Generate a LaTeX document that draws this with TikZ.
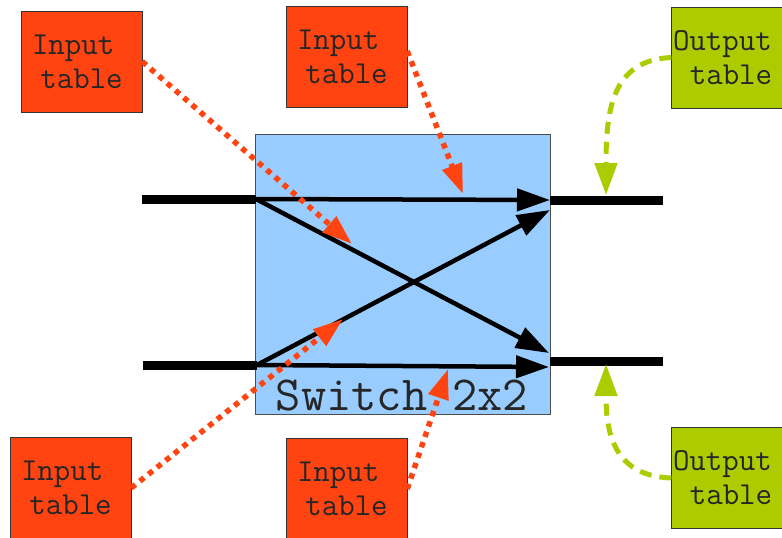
\documentclass[tikz,border=0pt]{standalone}
\usepackage{fontspec}
\usetikzlibrary{arrows.meta,positioning}
\definecolor{tabred}{HTML}{FF4411}
\definecolor{tabgreen}{HTML}{ACCC00}
\definecolor{swblue}{HTML}{99CCFF}

\begin{document}
\begin{tikzpicture}[x=1pt, y=-1pt, line join=miter,
    intab/.style={draw=black!80, fill=tabred, minimum width=121pt, minimum height=101pt,
      inner xsep=11pt, text width=99pt, align=left, text=black!85,
      font=\ttfamily\fontsize{32}{34}\selectfont},
    outtab/.style={intab, fill=tabgreen, inner xsep=1pt, text width=118pt},
    wire/.style={line width=9pt},
    link/.style={line width=4.5pt, -{Triangle[length=33pt,width=22pt]}},
    ctl/.style={tabred, line width=5.5pt, dash pattern=on 5.5pt off 5.5pt,
      -{Triangle[length=30pt,width=20pt]}},
    upd/.style={tabgreen, line width=5pt, dash pattern=on 12pt off 8pt,
      -{Triangle[length=32pt,width=22pt]}}]
    \useasboundingbox (0,0) rectangle (782,538);

    % switch and its ports
    \node[draw=black!70, fill=swblue, minimum width=295pt, minimum height=280pt] (sw) at (402.5,274.5) {};
    \node[anchor=base, text=black!85, font=\ttfamily\fontsize{49}{49}\selectfont] (swlabel) at (402,410) {Switch 2x2};
    \coordinate (i1) at (142,199);
    \coordinate (p1) at (256,199);
    \coordinate (q1) at (550,200);
    \coordinate (o1) at (663,200);
    \coordinate (i2) at (143,365);
    \coordinate (p2) at (257,365);
    \coordinate (q2) at (550,361);
    \coordinate (o2) at (663,361);
    \draw[wire] (i1) -- (p1);
    \draw[wire] (i2) -- (p2);
    \draw[wire] (q1) -- (o1);
    \draw[wire] (q2) -- (o2);
    \draw[link] (p1) -- (550,200);
    \draw[link] (p1) -- (549,353);
    \draw[link] (p2) -- (550,210);
    \draw[link] (p2) -- (549,367);

    % tables
    \node[intab] (in1) at (81.5,61.5) {Input\\\hspace{0.26em}table};
    \node[intab] (in2) at (346.5,57) {Input\\\hspace{0.26em}table};
    \node[intab] (in3) at (70.5,488) {Input\\\hspace{0.26em}table};
    \node[intab] (in4) at (346.5,489) {Input\\\hspace{0.26em}table};
    \node[outtab] (out1) at (732,57.5) {Output\\\hspace{0.525em}table};
    \node[outtab] (out2) at (732,478) {Output\\\hspace{0.525em}table};

    \coordinate (t1) at (352,244);
    \coordinate (t2) at (463,194);
    \coordinate (t3) at (343,319);
    \coordinate (t4) at (448,369);
    \draw[ctl] (in1.east) -- (t1);
    \draw[ctl] (in2.east) ++(0,-6) -- (t2);
    \draw[ctl] (in3.east) -- (t3);
    \draw[ctl] (in4.east) -- (t4);

    \coordinate (u1) at (606,195);
    \coordinate (u2) at (606,364);
    \draw[upd] (out1.west) .. controls (612,60) and (606,110) .. (u1);
    \draw[upd] (out2.west) .. controls (612,476) and (606,430) .. (u2);
  \end{tikzpicture}
\end{document}
